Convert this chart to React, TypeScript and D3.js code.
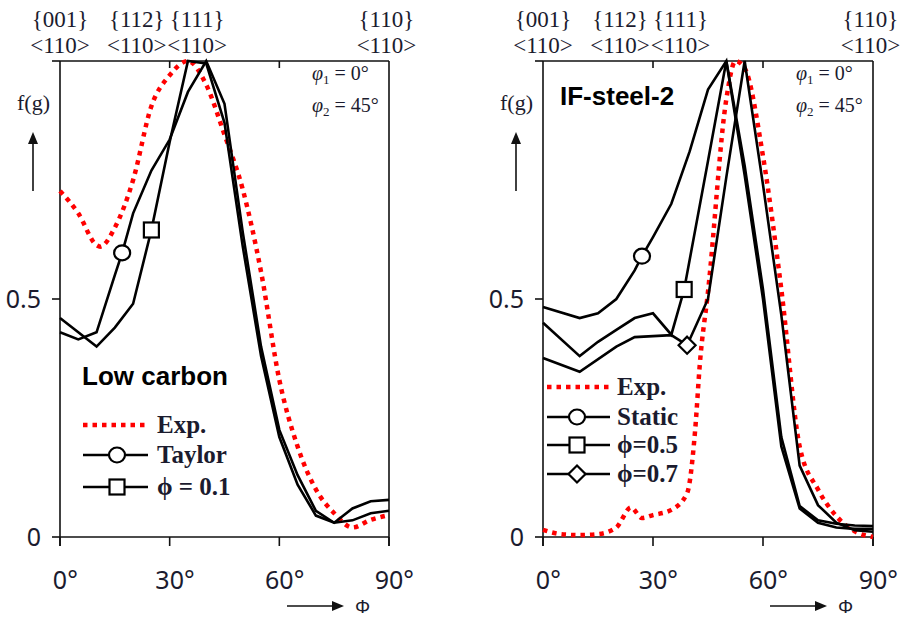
import React from "react";
import * as d3 from "d3";

const W = 901;
const H = 617;
const Y_TOP = 61;
const Y_BOT = 537;

const SERIF = "'Liberation Serif', 'Times New Roman', serif";
const SANS = "'Liberation Sans', Arial, sans-serif";
const TICKFONT = "'Noto Sans', 'Liberation Sans', sans-serif";
const TXT = "#1b1b2e";

// ---------- shared axis data ----------
const xTicks = [0, 30, 60, 90];
const yTicks = [0, 0.5, 1];
const yTickLabels = ["0", "0.5", ""];
const topLabelPhi = [0, 21, 37.5, 89.3];
const topLabelRow1 = ["{001}", "{112}", "{111}", "{110}"];
const topLabelRow2 = ["<110>", "<110>", "<110>", "<110>"];

// ---------- Low carbon panel ----------
const lcExpPhi = [0, 5, 10, 11, 15, 20, 25, 30, 35, 40, 45, 50, 55, 60, 65, 70, 75, 80, 85, 90];
const lcExpVal = [0.727, 0.68, 0.613, 0.61, 0.65, 0.75, 0.905, 0.97, 1.0, 0.95, 0.845, 0.73, 0.557, 0.33, 0.19, 0.1, 0.05, 0.02, 0.036, 0.046];

const lcTaylorPhi = [0, 5, 10, 15, 17, 20, 25, 30, 35, 40, 45, 50, 55, 60, 65, 70, 75, 80, 85, 90];
const lcTaylorVal = [0.43, 0.415, 0.43, 0.55, 0.597, 0.68, 0.77, 0.835, 0.935, 1.0, 0.91, 0.64, 0.4, 0.225, 0.13, 0.055, 0.03, 0.06, 0.075, 0.078];
const lcTaylorMarkerPhi = 17;

const lcPhi01Phi = [0, 5, 10, 15, 20, 25, 30, 35, 40, 45, 50, 55, 60, 65, 70, 75, 80, 85, 90];
const lcPhi01Val = [0.46, 0.43, 0.4, 0.44, 0.49, 0.645, 0.83, 1.0, 0.995, 0.87, 0.61, 0.38, 0.21, 0.11, 0.045, 0.03, 0.035, 0.05, 0.055];
const lcPhi01MarkerPhi = 25;

// ---------- IF-steel-2 panel ----------
const ifExpPhi = [0, 5, 10, 15, 20, 24, 27, 30, 35, 39.3, 41.5, 42.8, 45, 50, 52.5, 55, 60, 65, 70, 75, 80, 85, 90];
const ifExpVal = [0.015, 0.006, 0.004, 0.006, 0.02, 0.062, 0.04, 0.046, 0.057, 0.092, 0.225, 0.366, 0.515, 0.92, 1.0, 0.985, 0.8, 0.52, 0.19, 0.1, 0.044, 0.012, 0.0];

const ifStaticPhi = [0, 10, 15, 20, 25, 27, 30, 35, 40, 45, 50, 55, 60, 65, 70, 75, 80, 85, 90];
const ifStaticVal = [0.483, 0.46, 0.47, 0.5, 0.56, 0.59, 0.63, 0.7, 0.81, 0.94, 1.0, 0.76, 0.5, 0.19, 0.06, 0.03, 0.02, 0.017, 0.017];
const ifStaticMarkerPhi = 27;

const ifPhi05Phi = [0, 10, 15, 20, 25, 30, 35, 38.5, 45, 50, 55, 60, 65, 70, 75, 80, 85, 90];
const ifPhi05Val = [0.45, 0.38, 0.41, 0.435, 0.46, 0.47, 0.425, 0.52, 0.79, 1.0, 0.78, 0.52, 0.21, 0.065, 0.035, 0.028, 0.024, 0.023];
const ifPhi05MarkerPhi = 38.5;

const ifPhi07Phi = [0, 10, 20, 25, 35, 39.3, 45, 50, 55, 60, 65, 70, 75, 80, 85, 90];
const ifPhi07Val = [0.376, 0.347, 0.4, 0.42, 0.424, 0.403, 0.5, 0.756, 1.0, 0.74, 0.466, 0.15, 0.067, 0.03, 0.014, 0.011];
const ifPhi07MarkerPhi = 39.3;

type Marker = "circle" | "square" | "diamond" | undefined;
type Series = { phi: number[]; val: number[]; exp?: boolean; marker?: Marker; markerPhi?: number };
type LegendItem = { label: string; exp?: boolean; marker?: Marker; ly: number };

function MarkerShape({ kind, cx, cy }: { kind: Marker; cx: number; cy: number }) {
  const sw = 2.2;
  if (kind === "circle")
    return <ellipse cx={cx} cy={cy} rx={8} ry={7.5} fill="#fff" stroke="#000" strokeWidth={sw} />;
  if (kind === "square")
    return <rect x={cx - 7.5} y={cy - 7.5} width={15} height={15} fill="#fff" stroke="#000" strokeWidth={sw} />;
  if (kind === "diamond")
    return (
      <path
        d={`M${cx},${cy - 8.5}L${cx + 8.5},${cy}L${cx},${cy + 8.5}L${cx - 8.5},${cy}Z`}
        fill="#fff"
        stroke="#000"
        strokeWidth={sw}
      />
    );
  return null;
}

function Panel({
  x0,
  x1,
  series,
  title,
  titleX,
  titleY,
  legend,
  legendX0,
  legendX1,
  legendMarkerX,
  legendTextX,
}: {
  x0: number;
  x1: number;
  series: Series[];
  title: string;
  titleX: number;
  titleY: number;
  legend: LegendItem[];
  legendX0: number;
  legendX1: number;
  legendMarkerX: number;
  legendTextX: number;
}) {
  const x = d3.scaleLinear().domain([0, 90]).range([x0, x1]);
  const y = d3.scaleLinear().domain([0, 1]).range([Y_BOT, Y_TOP]);
  const axisW = 1.6;
  const axisC = "#111";

  return (
    <g>
      {/* top labels */}
      {topLabelPhi.map((p, i) => (
        <g key={"tl" + i} fontFamily={SERIF} fontSize={23} fill={TXT} textAnchor="middle">
          <text x={x(p)} y={27}>{topLabelRow1[i]}</text>
          <text x={x(p)} y={53}>{topLabelRow2[i]}</text>
        </g>
      ))}

      {/* frame */}
      <line x1={x0} x2={x1} y1={Y_TOP} y2={Y_TOP} stroke={axisC} strokeWidth={axisW} />
      <line x1={x0} x2={x1} y1={Y_BOT} y2={Y_BOT} stroke={axisC} strokeWidth={axisW} />
      <line x1={x0} x2={x0} y1={Y_TOP} y2={Y_BOT + 9} stroke={axisC} strokeWidth={axisW} />
      <line x1={x1} x2={x1} y1={Y_TOP} y2={Y_BOT + 9} stroke={axisC} strokeWidth={axisW} />

      {/* y ticks */}
      {yTicks.map((t, i) => (
        <g key={"yt" + i}>
          <line x1={x0 - 8} x2={x0} y1={y(t)} y2={y(t)} stroke={axisC} strokeWidth={axisW} />
          {yTickLabels[i] && (
            <text x={x0 - 19} y={y(t) + 9} textAnchor="end" fontFamily={TICKFONT} fontSize={25} fill={TXT}>
              {yTickLabels[i]}
            </text>
          )}
        </g>
      ))}

      {/* x ticks */}
      {xTicks.map((t, i) => {
        const s = String(t);
        const half = (s.length * 0.572 * 25) / 2;
        return (
          <g key={"xt" + i}>
            <line x1={x(t)} x2={x(t)} y1={Y_BOT} y2={Y_BOT + 9} stroke={axisC} strokeWidth={axisW} />
            {t > 0 && t < 90 && (
              <line x1={x(t)} x2={x(t)} y1={Y_TOP} y2={Y_TOP + 7} stroke={axisC} strokeWidth={axisW} />
            )}
            <text x={x(t) - half} y={589} fontFamily={TICKFONT} fontSize={25} fill={TXT}>
              {s}°
            </text>
          </g>
        );
      })}

      {/* f(g) label + arrow */}
      <text x={x0 - 43} y={110} fontFamily={SERIF} fontSize={22} fill={TXT}>
        f(g)
      </text>
      <line x1={x0 - 27} x2={x0 - 27} y1={191} y2={142} stroke="#111" strokeWidth={1.6} />
      <path d={`M${x0 - 27},${132}L${x0 - 32},${144}L${x0 - 22},${144}Z`} fill="#111" />

      {/* Phi arrow */}
      <line x1={x0 + 227} x2={x0 + 274} y1={606} y2={606} stroke="#111" strokeWidth={1.6} />
      <path d={`M${x0 + 284},606L${x0 + 272},601L${x0 + 272},611Z`} fill="#111" />
      <text x={x0 + 295} y={613} fontFamily={SANS} fontSize={19} fill={TXT}>
        Φ
      </text>

      {/* phi1 / phi2 */}
      <text x={x1 - 77} y={80} fontFamily={SERIF} fontSize={20} fill={TXT}>
        <tspan fontStyle="italic">φ</tspan>
        <tspan fontSize={13} dy={4}>1</tspan>
        <tspan dy={-4}> = 0°</tspan>
      </text>
      <text x={x1 - 77} y={112} fontFamily={SERIF} fontSize={20} fill={TXT}>
        <tspan fontStyle="italic">φ</tspan>
        <tspan fontSize={13} dy={4}>2</tspan>
        <tspan dy={-4}> = 45°</tspan>
      </text>

      {/* title */}
      <text x={titleX} y={titleY} fontFamily={SANS} fontWeight="bold" fontSize={26} fill="#000">
        {title}
      </text>

      {/* series */}
      {series.map((s, i) => {
        const pts: [number, number][] = s.phi.map((p, k) => [p, s.val[k]]);
        const gen = d3
          .line<[number, number]>()
          .x((d) => x(d[0]))
          .y((d) => y(d[1]))
          .curve(s.exp ? d3.curveMonotoneX : d3.curveLinear);
        return (
          <path
            key={"s" + i}
            d={gen(pts) || ""}
            fill="none"
            stroke={s.exp ? "#ff0000" : "#000"}
            strokeWidth={s.exp ? 4.5 : 2.6}
            strokeDasharray={s.exp ? "4.5 5" : undefined}
            strokeLinejoin="miter"
          />
        );
      })}
      {series.map((s, i) => {
        if (!s.marker || s.markerPhi === undefined) return null;
        const k = s.phi.indexOf(s.markerPhi);
        return <MarkerShape key={"m" + i} kind={s.marker} cx={x(s.phi[k])} cy={y(s.val[k])} />;
      })}

      {/* legend */}
      {legend.map((it, i) => (
        <g key={"lg" + i}>
          <line
            x1={legendX0}
            x2={legendX1}
            y1={it.ly}
            y2={it.ly}
            stroke={it.exp ? "#ff0000" : "#000"}
            strokeWidth={it.exp ? 4.5 : 2.6}
            strokeDasharray={it.exp ? "4.5 5" : undefined}
          />
          {it.marker && <MarkerShape kind={it.marker} cx={legendMarkerX} cy={it.ly} />}
          <text x={legendTextX} y={it.ly + 8} fontFamily={SERIF} fontWeight="bold" fontSize={25} fill={TXT}>
            {it.label}
          </text>
        </g>
      ))}
    </g>
  );
}

const lcLegendLabels = ["Exp.", "Taylor", "ϕ = 0.1"];
const ifLegendLabels = ["Exp.", "Static", "ϕ=0.5", "ϕ=0.7"];

export default function App() {
  const lcSeries: Series[] = [
    { phi: lcExpPhi, val: lcExpVal, exp: true },
    { phi: lcTaylorPhi, val: lcTaylorVal, marker: "circle", markerPhi: lcTaylorMarkerPhi },
    { phi: lcPhi01Phi, val: lcPhi01Val, marker: "square", markerPhi: lcPhi01MarkerPhi },
  ];
  const ifSeries: Series[] = [
    { phi: ifExpPhi, val: ifExpVal, exp: true },
    { phi: ifStaticPhi, val: ifStaticVal, marker: "circle", markerPhi: ifStaticMarkerPhi },
    { phi: ifPhi05Phi, val: ifPhi05Val, marker: "square", markerPhi: ifPhi05MarkerPhi },
    { phi: ifPhi07Phi, val: ifPhi07Val, marker: "diamond", markerPhi: ifPhi07MarkerPhi },
  ];
  const lcLegend: LegendItem[] = [
    { label: lcLegendLabels[0], exp: true, ly: 425 },
    { label: lcLegendLabels[1], marker: "circle", ly: 455 },
    { label: lcLegendLabels[2], marker: "square", ly: 487 },
  ];
  const ifLegend: LegendItem[] = [
    { label: ifLegendLabels[0], exp: true, ly: 387 },
    { label: ifLegendLabels[1], marker: "circle", ly: 417 },
    { label: ifLegendLabels[2], marker: "square", ly: 445 },
    { label: ifLegendLabels[3], marker: "diamond", ly: 474 },
  ];
  return (
    <svg
      width={W}
      height={H}
      viewBox={`0 0 ${W} ${H}`}
      style={{ position: "absolute", left: 0, top: 0, background: "#fff", display: "block" }}
    >
      <rect x={0} y={0} width={W} height={H} fill="#fff" />
      <Panel
        x0={60}
        x1={389}
        series={lcSeries}
        title="Low carbon"
        titleX={82}
        titleY={385}
        legend={lcLegend}
        legendX0={83}
        legendX1={148}
        legendMarkerX={117}
        legendTextX={157}
      />
      <Panel
        x0={543}
        x1={873}
        series={ifSeries}
        title="IF-steel-2"
        titleX={560}
        titleY={105}
        legend={ifLegend}
        legendX0={547}
        legendX1={610}
        legendMarkerX={577}
        legendTextX={617}
      />
    </svg>
  );
}
